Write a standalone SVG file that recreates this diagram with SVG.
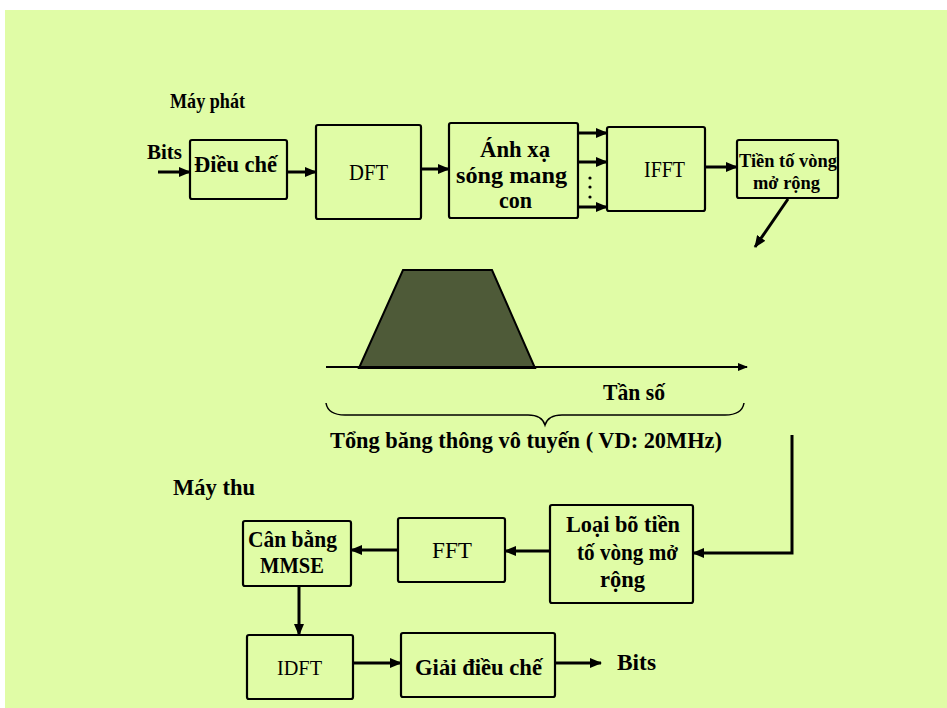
<svg xmlns="http://www.w3.org/2000/svg" width="947" height="708" viewBox="0 0 947 708">
<defs>
<marker id="ah" markerUnits="userSpaceOnUse" markerWidth="12" markerHeight="10" refX="11" refY="5" orient="auto"><path d="M0,0 L12,5 L0,10 Z" fill="#000"/></marker>
<marker id="ahs" markerUnits="userSpaceOnUse" markerWidth="10" markerHeight="8" refX="9" refY="4" orient="auto"><path d="M0,0 L10,4 L0,8 Z" fill="#000"/></marker>
<style>
.box{fill:none;stroke:#000;stroke-width:2.2}
.b{font-family:"Liberation Serif","Times New Roman",serif;font-weight:bold;fill:#000}
.r{font-family:"Liberation Serif","Times New Roman",serif;font-weight:normal;fill:#000}
.c{stroke:#000;stroke-width:3;fill:none;marker-end:url(#ah)}
</style>
</defs>
<rect x="0" y="0" width="947" height="708" fill="#fff"/>
<rect x="5" y="10" width="942" height="698" fill="#e0fca6"/>

<text class="b" x="170" y="108" font-size="22" textLength="75" lengthAdjust="spacingAndGlyphs">Máy phát</text>
<text class="b" x="147" y="159" font-size="20" textLength="35" lengthAdjust="spacingAndGlyphs">Bits</text>

<g id="dieuche"><rect class="box" x="190" y="140" width="97" height="59" rx="2"/><text class="b" x="194" y="172" font-size="24" textLength="83" lengthAdjust="spacingAndGlyphs">Điều chế</text></g>
<g id="dft"><rect class="box" x="316" y="125" width="105" height="94" rx="2"/><text class="r" x="349" y="180" font-size="23" textLength="39" lengthAdjust="spacingAndGlyphs">DFT</text></g>
<g id="anhxa"><rect class="box" x="449" y="123" width="129" height="95" rx="2"/>
<text class="b" x="480" y="157" font-size="24" textLength="70" lengthAdjust="spacingAndGlyphs">Ánh xạ</text>
<text class="b" x="456" y="183" font-size="24" textLength="111" lengthAdjust="spacingAndGlyphs">sóng mang</text>
<text class="b" x="499" y="208" font-size="24" textLength="33" lengthAdjust="spacingAndGlyphs">con</text></g>
<g id="ifft"><rect class="box" x="607" y="127" width="98" height="84" rx="2"/><text class="r" x="644" y="177" font-size="23" textLength="41" lengthAdjust="spacingAndGlyphs">IFFT</text></g>
<g id="tiento"><rect class="box" x="737" y="140" width="101" height="58" rx="2"/>
<text class="b" x="739" y="167" font-size="19" textLength="98" lengthAdjust="spacingAndGlyphs">Tiền tố vòng</text>
<text class="b" x="753" y="189" font-size="19" textLength="67" lengthAdjust="spacingAndGlyphs">mở rộng</text></g>

<g id="spectrum">
<polygon points="359,368 403,270 492,270 535,368" fill="#4e5a38" stroke="#000" stroke-width="2"/>
<line x1="326" y1="367" x2="747" y2="367" stroke="#000" stroke-width="2" marker-end="url(#ahs)"/>
<text class="b" x="603" y="400" font-size="23" textLength="62" lengthAdjust="spacingAndGlyphs">Tần số</text>
<path d="M326,403 Q328,415 345,415 L528,415 Q542,415 545,425 Q548,415 562,415 L725,415 Q742,415 744,403" fill="none" stroke="#000" stroke-width="1.5"/>
<text class="b" x="330" y="448" font-size="23" textLength="392" lengthAdjust="spacingAndGlyphs">Tổng băng thông vô tuyến ( VD: 20MHz)</text>
</g>

<text class="b" x="173" y="495" font-size="23" textLength="82" lengthAdjust="spacingAndGlyphs">Máy thu</text>

<g id="loaibo"><rect class="box" x="550" y="505" width="143" height="98" rx="2"/>
<text class="b" x="566" y="532" font-size="24" textLength="114" lengthAdjust="spacingAndGlyphs">Loại bõ tiền</text>
<text class="b" x="577" y="560" font-size="24" textLength="101" lengthAdjust="spacingAndGlyphs">tố vòng mở</text>
<text class="b" x="600" y="587" font-size="24" textLength="45" lengthAdjust="spacingAndGlyphs">rộng</text></g>
<g id="fft"><rect class="box" x="398" y="518" width="107" height="64" rx="2"/><text class="r" x="432" y="558" font-size="23" textLength="40" lengthAdjust="spacingAndGlyphs">FFT</text></g>
<g id="canbang"><rect class="box" x="243" y="521" width="108" height="65" rx="2"/>
<text class="b" x="248" y="547" font-size="23" textLength="89" lengthAdjust="spacingAndGlyphs">Cân bằng</text>
<text class="b" x="260" y="573" font-size="23" textLength="64" lengthAdjust="spacingAndGlyphs">MMSE</text></g>
<g id="idft"><rect class="box" x="247" y="635" width="106" height="64" rx="2"/><text class="r" x="277" y="675" font-size="22" textLength="45" lengthAdjust="spacingAndGlyphs">IDFT</text></g>
<g id="giai"><rect class="box" x="401" y="633" width="154" height="64" rx="2"/><text class="b" x="415" y="675" font-size="23" textLength="127" lengthAdjust="spacingAndGlyphs">Giải điều chế</text></g>
<text class="b" x="617" y="670" font-size="23" textLength="39" lengthAdjust="spacingAndGlyphs">Bits</text>

<g id="connectors">
<line class="c" x1="158" y1="172" x2="190" y2="172"/>
<line class="c" x1="287" y1="172" x2="316" y2="172"/>
<line class="c" x1="421" y1="169" x2="449" y2="169"/>
<line class="c" x1="578" y1="133" x2="607" y2="133"/>
<line class="c" x1="578" y1="162" x2="607" y2="162"/>
<line class="c" x1="578" y1="207" x2="607" y2="207"/>
<circle cx="590" cy="178" r="1.6" fill="#000"/>
<circle cx="590" cy="187" r="1.6" fill="#000"/>
<circle cx="590" cy="197" r="1.6" fill="#000"/>
<line class="c" x1="705" y1="167" x2="737" y2="167"/>
<line class="c" x1="788" y1="199" x2="755" y2="247"/>
<polyline class="c" points="792,435 792,553 693,553"/>
<line class="c" x1="550" y1="551" x2="505" y2="551"/>
<line class="c" x1="398" y1="550" x2="351" y2="550"/>
<line class="c" x1="299" y1="586" x2="299" y2="635"/>
<line class="c" x1="353" y1="663" x2="401" y2="663"/>
<line class="c" x1="555" y1="663" x2="601" y2="663"/>
</g>
</svg>
